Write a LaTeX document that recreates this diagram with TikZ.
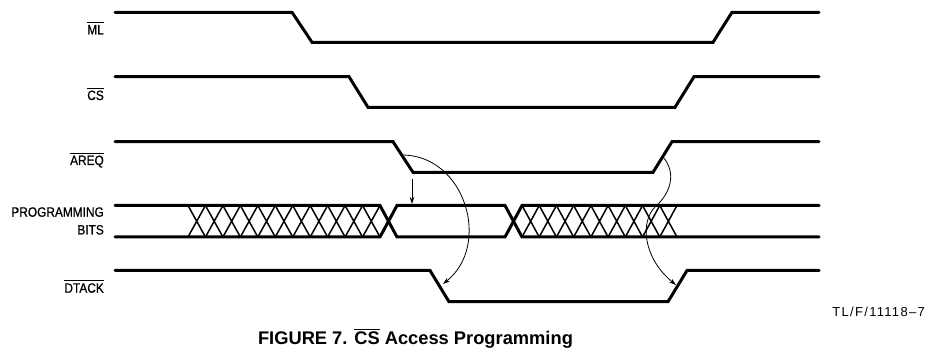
\documentclass[tikz,border=0pt]{standalone}
\usepackage{fontspec}
\setmainfont{Liberation Sans}
\newfontfamily\lblfont[FakeStretch=0.88,FakeBold=0.8]{Liberation Sans}
\newfontfamily\tlfont[LetterSpace=10]{Liberation Sans}
\usetikzlibrary{arrows.meta}
\newcommand\olbar[2][1.8pt]{\setbox0\hbox{#2}\rlap{\rule[\dimexpr\ht0+#1\relax]{\wd0}{1.2pt}}\box0\relax}
\begin{document}
\begin{tikzpicture}[x=1pt,y=-1pt,
  sig/.style={line width=3pt,line cap=round},
  xthin/.style={line width=1.5pt},
  ann/.style={line width=0.8pt,-{Stealth[length=7pt,width=4.5pt]}},
  lbl/.style={anchor=base east,inner sep=0pt,font=\lblfont\fontsize{13.5}{15}\selectfont}]
\useasboundingbox (0,0) rectangle (940,352);

% labels
\node[lbl] (ml) at (104,34.3) {\olbar{ML}};
\node[lbl] (cs) at (104,100) {\olbar{CS}};
\node[lbl] (areq) at (104,165) {\olbar{AREQ}};
\node[lbl] (prog) at (104,216.7) {PROGRAMMING};
\node[lbl] (bits) at (104,234.5) {BITS};
\node[lbl] (dtack) at (104,292.7) {\olbar{DTACK}};

% waveforms
\draw[sig] (115,12.3) -- (292,12.3) -- (312,42.3) -- (713,42.3) -- (732,12.3) -- (819,12.3);
\draw[sig] (115,76.7) -- (349,76.7) -- (368,107.3) -- (675,107.3) -- (694,76.7) -- (819,76.7);
\draw[sig] (115,141.7) -- (393,141.7) -- (413,172.3) -- (653,172.3) -- (672,141.7) -- (819,141.7);
\draw[sig] (115,270.5) -- (430,270.5) -- (449,301.7) -- (668,301.7) -- (687,270.5) -- (819,270.5);

% programming bits bus
\draw[sig] (115,205.5) -- (380,205.5) -- (397,237) -- (505,237) -- (522,205.5) -- (819,205.5);
\draw[sig] (115,237) -- (380,237) -- (397,205.5) -- (505,205.5) -- (522,237) -- (819,237);
\foreach \i in {0,...,10} {
  \pgfmathsetmacro\xa{188+17.4545*\i}
  \pgfmathsetmacro\xb{\xa+17.4545}
  \draw[xthin] (\xa,205.5) -- (\xb,237) (\xa,237) -- (\xb,205.5);
}
\foreach \i in {0,...,8} {
  \pgfmathsetmacro\xa{522+17.22*\i}
  \pgfmathsetmacro\xb{\xa+17.22}
  \draw[xthin] (\xa,205.5) -- (\xb,237) (\xa,237) -- (\xb,205.5);
}

% annotation arrows
\coordinate (a1s) at (412,179);
\coordinate (a1e) at (412,204);
\draw[ann] (a1s) -- (a1e);
\coordinate (a2s) at (402,155);
\coordinate (a2e) at (443,284);
\draw[ann] (a2s) .. controls (465,155) and (492,245) .. (a2e);
\coordinate (a3s) at (663,157);
\coordinate (a3m) at (655,207);
\coordinate (a3e) at (676,285);
\draw[ann] (a3s) .. controls (676,172) and (672,192) .. (a3m) .. controls (640,222) and (643,258) .. (a3e);

% caption
\node[anchor=base,inner sep=0pt,font=\bfseries\fontsize{18.3}{21}\selectfont] (cap) at (415.5,344.5) {FIGURE 7. \olbar[1.5pt]{CS} Access Programming};
\node[anchor=base east,inner sep=0pt,font=\tlfont\fontsize{13}{15}\selectfont] (tl) at (925,317) {TL/F/11118–7};
\end{tikzpicture}
\end{document}
